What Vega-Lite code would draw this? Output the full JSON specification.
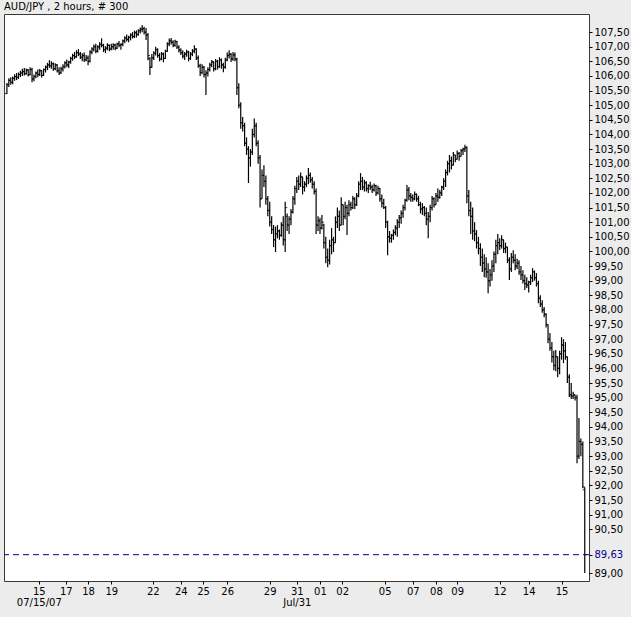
{
"$schema": "https://vega.github.io/schema/vega-lite/v6.json",
"width": 585, "height": 567,
"autosize": {"type": "none"},
"padding": {"left": 4, "top": 14, "right": 42, "bottom": 36},
"background": "#ECECEC",
"title": {"text": "AUD/JPY , 2 hours, # 300", "anchor": "start", "frame": "group", "offset": 2, "fontSize": 10, "fontWeight": "normal", "font": "DejaVu Sans", "color": "black"},
"config": {"view": {"stroke": "#3a3a30", "fill": "white"}, "font": "DejaVu Sans", "axis": {"labelOverlap": false}},
"datasets": {
"last": [{"price": 89.63}],
"bars": [
{"i":0,"o":105.40,"h":105.76,"l":105.38,"c":105.70},
{"i":1,"o":105.70,"h":105.92,"l":105.62,"c":105.85},
{"i":2,"o":105.85,"h":105.96,"l":105.70,"c":105.78},
{"i":3,"o":105.78,"h":105.98,"l":105.72,"c":105.92},
{"i":4,"o":105.92,"h":106.06,"l":105.84,"c":105.98},
{"i":5,"o":105.98,"h":106.10,"l":105.86,"c":105.95},
{"i":6,"o":105.95,"h":106.12,"l":105.90,"c":106.05},
{"i":7,"o":106.05,"h":106.18,"l":105.96,"c":106.10},
{"i":8,"o":106.10,"h":106.25,"l":106.00,"c":106.15},
{"i":9,"o":106.15,"h":106.27,"l":106.02,"c":106.08},
{"i":10,"o":106.08,"h":106.26,"l":106.04,"c":106.20},
{"i":11,"o":106.20,"h":106.24,"l":105.98,"c":106.05},
{"i":12,"o":106.05,"h":106.30,"l":106.02,"c":106.22},
{"i":13,"o":106.22,"h":106.28,"l":105.79,"c":105.90},
{"i":14,"o":105.90,"h":106.05,"l":105.82,"c":105.98},
{"i":15,"o":105.98,"h":106.15,"l":105.92,"c":106.10},
{"i":16,"o":106.10,"h":106.22,"l":105.96,"c":106.05},
{"i":17,"o":106.05,"h":106.24,"l":106.00,"c":106.18},
{"i":18,"o":106.18,"h":106.20,"l":105.95,"c":106.02},
{"i":19,"o":106.02,"h":106.26,"l":106.00,"c":106.22},
{"i":20,"o":106.22,"h":106.36,"l":106.12,"c":106.30},
{"i":21,"o":106.30,"h":106.45,"l":106.20,"c":106.38},
{"i":22,"o":106.38,"h":106.54,"l":106.28,"c":106.35},
{"i":23,"o":106.35,"h":106.50,"l":106.25,"c":106.42},
{"i":24,"o":106.42,"h":106.46,"l":106.18,"c":106.25},
{"i":25,"o":106.25,"h":106.44,"l":106.20,"c":106.38},
{"i":26,"o":106.38,"h":106.40,"l":106.12,"c":106.18},
{"i":27,"o":106.18,"h":106.30,"l":106.03,"c":106.10},
{"i":28,"o":106.10,"h":106.32,"l":106.08,"c":106.25},
{"i":29,"o":106.25,"h":106.40,"l":106.15,"c":106.32},
{"i":30,"o":106.32,"h":106.50,"l":106.26,"c":106.45},
{"i":31,"o":106.45,"h":106.56,"l":106.30,"c":106.38},
{"i":32,"o":106.38,"h":106.52,"l":106.27,"c":106.48},
{"i":33,"o":106.48,"h":106.66,"l":106.42,"c":106.60},
{"i":34,"o":106.60,"h":106.76,"l":106.52,"c":106.70},
{"i":35,"o":106.70,"h":106.82,"l":106.58,"c":106.66},
{"i":36,"o":106.66,"h":106.88,"l":106.62,"c":106.80},
{"i":37,"o":106.80,"h":106.92,"l":106.68,"c":106.75},
{"i":38,"o":106.75,"h":106.82,"l":106.58,"c":106.64},
{"i":39,"o":106.64,"h":106.78,"l":106.50,"c":106.70},
{"i":40,"o":106.70,"h":106.80,"l":106.48,"c":106.55},
{"i":41,"o":106.55,"h":106.72,"l":106.50,"c":106.62},
{"i":42,"o":106.62,"h":106.70,"l":106.37,"c":106.50},
{"i":43,"o":106.50,"h":106.88,"l":106.46,"c":106.82},
{"i":44,"o":106.82,"h":106.98,"l":106.74,"c":106.92},
{"i":45,"o":106.92,"h":107.08,"l":106.84,"c":107.00},
{"i":46,"o":107.00,"h":107.10,"l":106.78,"c":106.85},
{"i":47,"o":106.85,"h":107.05,"l":106.80,"c":107.00},
{"i":48,"o":107.00,"h":107.15,"l":106.90,"c":107.08},
{"i":49,"o":107.08,"h":107.29,"l":106.98,"c":107.05},
{"i":50,"o":107.05,"h":107.10,"l":106.82,"c":106.90},
{"i":51,"o":106.90,"h":107.02,"l":106.78,"c":106.95},
{"i":52,"o":106.95,"h":107.12,"l":106.88,"c":107.05},
{"i":53,"o":107.05,"h":107.08,"l":106.85,"c":106.92},
{"i":54,"o":106.92,"h":107.10,"l":106.88,"c":107.00},
{"i":55,"o":107.00,"h":107.12,"l":106.90,"c":107.06},
{"i":56,"o":107.06,"h":107.10,"l":106.88,"c":106.95},
{"i":57,"o":106.95,"h":107.14,"l":106.92,"c":107.10},
{"i":58,"o":107.10,"h":107.20,"l":106.98,"c":107.05},
{"i":59,"o":107.05,"h":107.12,"l":106.90,"c":107.08},
{"i":60,"o":107.08,"h":107.25,"l":107.02,"c":107.20},
{"i":61,"o":107.20,"h":107.36,"l":107.12,"c":107.30},
{"i":62,"o":107.30,"h":107.42,"l":107.18,"c":107.25},
{"i":63,"o":107.25,"h":107.38,"l":107.15,"c":107.32},
{"i":64,"o":107.32,"h":107.46,"l":107.22,"c":107.40},
{"i":65,"o":107.40,"h":107.50,"l":107.28,"c":107.35},
{"i":66,"o":107.35,"h":107.55,"l":107.30,"c":107.48},
{"i":67,"o":107.48,"h":107.56,"l":107.32,"c":107.42},
{"i":68,"o":107.42,"h":107.60,"l":107.38,"c":107.55},
{"i":69,"o":107.55,"h":107.66,"l":107.45,"c":107.60},
{"i":70,"o":107.60,"h":107.74,"l":107.50,"c":107.62},
{"i":71,"o":107.62,"h":107.68,"l":107.42,"c":107.50},
{"i":72,"o":107.50,"h":107.64,"l":107.23,"c":107.40},
{"i":73,"o":107.40,"h":107.47,"l":106.54,"c":106.70},
{"i":74,"o":106.60,"h":106.64,"l":106.03,"c":106.30},
{"i":75,"o":106.30,"h":106.75,"l":106.28,"c":106.62},
{"i":76,"o":106.62,"h":106.85,"l":106.55,"c":106.78},
{"i":77,"o":106.78,"h":107.00,"l":106.70,"c":106.90},
{"i":78,"o":106.90,"h":106.95,"l":106.62,"c":106.70},
{"i":79,"o":106.70,"h":106.78,"l":106.50,"c":106.58},
{"i":80,"o":106.58,"h":106.82,"l":106.54,"c":106.75},
{"i":81,"o":106.75,"h":106.80,"l":106.47,"c":106.60},
{"i":82,"o":106.60,"h":106.90,"l":106.58,"c":106.85},
{"i":83,"o":106.85,"h":107.15,"l":106.82,"c":107.10},
{"i":84,"o":107.10,"h":107.28,"l":107.02,"c":107.20},
{"i":85,"o":107.20,"h":107.30,"l":107.08,"c":107.15},
{"i":86,"o":107.15,"h":107.22,"l":106.98,"c":107.05},
{"i":87,"o":107.05,"h":107.24,"l":107.00,"c":107.18},
{"i":88,"o":107.18,"h":107.20,"l":106.92,"c":106.98},
{"i":89,"o":106.98,"h":107.05,"l":106.80,"c":106.88},
{"i":90,"o":106.88,"h":106.95,"l":106.72,"c":106.80},
{"i":91,"o":106.80,"h":106.88,"l":106.60,"c":106.68},
{"i":92,"o":106.68,"h":106.82,"l":106.55,"c":106.75},
{"i":93,"o":106.75,"h":106.90,"l":106.66,"c":106.82},
{"i":94,"o":106.82,"h":106.86,"l":106.50,"c":106.60},
{"i":95,"o":106.60,"h":106.82,"l":106.55,"c":106.75},
{"i":96,"o":106.75,"h":106.92,"l":106.68,"c":106.85},
{"i":97,"o":106.85,"h":107.05,"l":106.78,"c":106.92},
{"i":98,"o":106.92,"h":106.95,"l":106.55,"c":106.62},
{"i":99,"o":106.62,"h":106.70,"l":106.28,"c":106.35},
{"i":100,"o":106.35,"h":106.42,"l":106.00,"c":106.12},
{"i":101,"o":106.12,"h":106.40,"l":106.06,"c":106.30},
{"i":102,"o":106.30,"h":106.34,"l":105.95,"c":106.05},
{"i":103,"o":106.05,"h":106.20,"l":105.35,"c":106.10},
{"i":104,"o":106.10,"h":106.30,"l":105.98,"c":106.22},
{"i":105,"o":106.22,"h":106.45,"l":106.15,"c":106.38},
{"i":106,"o":106.38,"h":106.55,"l":106.30,"c":106.48},
{"i":107,"o":106.48,"h":106.50,"l":106.15,"c":106.25},
{"i":108,"o":106.25,"h":106.58,"l":106.20,"c":106.50},
{"i":109,"o":106.50,"h":106.55,"l":106.22,"c":106.32},
{"i":110,"o":106.32,"h":106.64,"l":106.28,"c":106.55},
{"i":111,"o":106.55,"h":106.60,"l":106.25,"c":106.38},
{"i":112,"o":106.38,"h":106.45,"l":106.13,"c":106.30},
{"i":113,"o":106.30,"h":106.62,"l":106.25,"c":106.55},
{"i":114,"o":106.55,"h":106.80,"l":106.50,"c":106.70},
{"i":115,"o":106.70,"h":106.88,"l":106.60,"c":106.75},
{"i":116,"o":106.75,"h":106.78,"l":106.48,"c":106.58},
{"i":117,"o":106.58,"h":106.82,"l":106.52,"c":106.72},
{"i":118,"o":106.72,"h":106.80,"l":106.50,"c":106.58},
{"i":119,"o":106.58,"h":106.62,"l":105.35,"c":105.60},
{"i":120,"o":105.60,"h":105.75,"l":104.90,"c":105.00},
{"i":121,"o":105.00,"h":105.10,"l":104.20,"c":104.40},
{"i":122,"o":104.40,"h":104.60,"l":104.10,"c":104.30},
{"i":123,"o":104.30,"h":104.40,"l":103.60,"c":103.70},
{"i":124,"o":103.70,"h":103.90,"l":103.30,"c":103.50},
{"i":125,"o":103.50,"h":103.60,"l":102.34,"c":103.20},
{"i":126,"o":103.20,"h":103.50,"l":102.90,"c":103.40},
{"i":127,"o":103.40,"h":104.20,"l":103.30,"c":104.00},
{"i":128,"o":104.00,"h":104.55,"l":103.90,"c":104.30},
{"i":129,"o":104.30,"h":104.40,"l":103.60,"c":103.70},
{"i":130,"o":103.70,"h":103.80,"l":103.00,"c":103.20},
{"i":131,"o":103.20,"h":103.30,"l":101.50,"c":101.80},
{"i":132,"o":101.80,"h":102.80,"l":101.80,"c":102.60},
{"i":133,"o":102.60,"h":102.95,"l":102.20,"c":102.40},
{"i":134,"o":102.40,"h":102.60,"l":101.60,"c":101.80},
{"i":135,"o":101.80,"h":101.90,"l":101.20,"c":101.40},
{"i":136,"o":101.40,"h":101.70,"l":100.85,"c":101.00},
{"i":137,"o":101.00,"h":101.20,"l":100.60,"c":100.75},
{"i":138,"o":100.75,"h":100.90,"l":100.15,"c":100.40},
{"i":139,"o":100.40,"h":100.85,"l":99.98,"c":100.60},
{"i":140,"o":100.60,"h":100.90,"l":100.45,"c":100.70},
{"i":141,"o":100.70,"h":100.75,"l":100.40,"c":100.55},
{"i":142,"o":100.55,"h":101.00,"l":100.50,"c":100.90},
{"i":143,"o":100.90,"h":101.20,"l":100.20,"c":100.40},
{"i":144,"o":100.40,"h":101.70,"l":99.98,"c":101.50},
{"i":145,"o":101.20,"h":101.30,"l":100.70,"c":100.90},
{"i":146,"o":100.90,"h":101.20,"l":100.60,"c":101.10},
{"i":147,"o":101.10,"h":101.45,"l":100.90,"c":101.35},
{"i":148,"o":101.35,"h":101.90,"l":101.30,"c":101.80},
{"i":149,"o":101.80,"h":102.25,"l":101.60,"c":102.15},
{"i":150,"o":102.15,"h":102.55,"l":102.00,"c":102.40},
{"i":151,"o":102.40,"h":102.60,"l":102.10,"c":102.30},
{"i":152,"o":102.30,"h":102.70,"l":102.20,"c":102.55},
{"i":153,"o":102.55,"h":102.55,"l":101.95,"c":102.20},
{"i":154,"o":102.20,"h":102.40,"l":102.05,"c":102.30},
{"i":155,"o":102.30,"h":102.60,"l":102.20,"c":102.50},
{"i":156,"o":102.50,"h":102.85,"l":102.30,"c":102.60},
{"i":157,"o":102.60,"h":102.70,"l":102.35,"c":102.45},
{"i":158,"o":102.45,"h":102.55,"l":102.15,"c":102.30},
{"i":159,"o":102.30,"h":102.40,"l":101.95,"c":102.05},
{"i":160,"o":102.05,"h":102.15,"l":100.60,"c":100.90},
{"i":161,"o":100.90,"h":101.20,"l":100.70,"c":101.05},
{"i":162,"o":101.05,"h":101.15,"l":100.60,"c":100.80},
{"i":163,"o":100.80,"h":101.25,"l":100.75,"c":101.00},
{"i":164,"o":100.90,"h":100.95,"l":100.10,"c":100.30},
{"i":165,"o":100.30,"h":100.50,"l":99.60,"c":99.80},
{"i":166,"o":99.80,"h":100.10,"l":99.46,"c":99.70},
{"i":167,"o":99.70,"h":100.40,"l":99.55,"c":100.20},
{"i":168,"o":100.20,"h":100.80,"l":99.90,"c":100.40},
{"i":169,"o":100.40,"h":100.50,"l":99.98,"c":100.30},
{"i":170,"o":100.30,"h":101.20,"l":100.30,"c":101.00},
{"i":171,"o":101.00,"h":101.50,"l":100.80,"c":101.20},
{"i":172,"o":101.20,"h":101.40,"l":100.70,"c":100.90},
{"i":173,"o":100.90,"h":101.85,"l":100.90,"c":101.60},
{"i":174,"o":101.60,"h":101.60,"l":100.90,"c":101.20},
{"i":175,"o":101.20,"h":101.70,"l":101.10,"c":101.50},
{"i":176,"o":101.50,"h":101.60,"l":100.56,"c":101.30},
{"i":177,"o":101.30,"h":101.75,"l":101.20,"c":101.60},
{"i":178,"o":101.60,"h":101.70,"l":101.40,"c":101.50},
{"i":179,"o":101.50,"h":101.90,"l":101.45,"c":101.80},
{"i":180,"o":101.80,"h":101.85,"l":101.45,"c":101.60},
{"i":181,"o":101.60,"h":102.00,"l":101.55,"c":101.90},
{"i":182,"o":101.90,"h":102.40,"l":101.85,"c":102.30},
{"i":183,"o":102.30,"h":102.68,"l":102.10,"c":102.40},
{"i":184,"o":102.40,"h":102.55,"l":102.10,"c":102.20},
{"i":185,"o":102.20,"h":102.45,"l":102.05,"c":102.35},
{"i":186,"o":102.35,"h":102.40,"l":102.05,"c":102.15},
{"i":187,"o":102.15,"h":102.30,"l":102.00,"c":102.25},
{"i":188,"o":102.25,"h":102.38,"l":102.10,"c":102.20},
{"i":189,"o":102.20,"h":102.28,"l":102.00,"c":102.10},
{"i":190,"o":102.10,"h":102.32,"l":102.05,"c":102.25},
{"i":191,"o":102.25,"h":102.28,"l":101.90,"c":102.00},
{"i":192,"o":102.00,"h":102.25,"l":101.95,"c":102.15},
{"i":193,"o":102.15,"h":102.18,"l":101.70,"c":101.80},
{"i":194,"o":101.80,"h":101.95,"l":101.50,"c":101.65},
{"i":195,"o":101.65,"h":101.80,"l":101.45,"c":101.50},
{"i":196,"o":101.50,"h":101.55,"l":100.80,"c":101.00},
{"i":197,"o":101.00,"h":101.05,"l":99.87,"c":100.50},
{"i":198,"o":100.50,"h":100.70,"l":100.30,"c":100.45},
{"i":199,"o":100.45,"h":100.60,"l":100.30,"c":100.55},
{"i":200,"o":100.55,"h":100.75,"l":100.40,"c":100.65},
{"i":201,"o":100.65,"h":100.90,"l":100.55,"c":100.80},
{"i":202,"o":100.80,"h":101.10,"l":100.50,"c":101.00},
{"i":203,"o":101.00,"h":101.25,"l":100.80,"c":101.15},
{"i":204,"o":101.15,"h":101.40,"l":100.95,"c":101.30},
{"i":205,"o":101.30,"h":101.60,"l":101.15,"c":101.50},
{"i":206,"o":101.50,"h":101.80,"l":101.40,"c":101.75},
{"i":207,"o":101.75,"h":102.27,"l":101.70,"c":102.10},
{"i":208,"o":102.10,"h":102.20,"l":101.75,"c":101.90},
{"i":209,"o":101.90,"h":102.00,"l":101.70,"c":101.85},
{"i":210,"o":101.85,"h":101.95,"l":101.70,"c":101.80},
{"i":211,"o":101.80,"h":102.05,"l":101.75,"c":101.95},
{"i":212,"o":101.95,"h":101.98,"l":101.70,"c":101.80},
{"i":213,"o":101.80,"h":101.90,"l":101.55,"c":101.60},
{"i":214,"o":101.60,"h":101.70,"l":101.30,"c":101.45},
{"i":215,"o":101.45,"h":101.65,"l":101.25,"c":101.50},
{"i":216,"o":101.50,"h":101.55,"l":101.20,"c":101.30},
{"i":217,"o":101.30,"h":101.50,"l":100.90,"c":101.10},
{"i":218,"o":101.10,"h":101.35,"l":100.45,"c":101.20},
{"i":219,"o":101.20,"h":101.60,"l":101.00,"c":101.50},
{"i":220,"o":101.50,"h":101.90,"l":101.40,"c":101.80},
{"i":221,"o":101.80,"h":101.85,"l":101.50,"c":101.60},
{"i":222,"o":101.60,"h":102.00,"l":101.60,"c":101.90},
{"i":223,"o":101.90,"h":102.15,"l":101.70,"c":101.85},
{"i":224,"o":101.85,"h":102.10,"l":101.80,"c":102.00},
{"i":225,"o":102.00,"h":102.25,"l":101.90,"c":102.20},
{"i":226,"o":102.20,"h":102.50,"l":102.10,"c":102.40},
{"i":227,"o":102.40,"h":102.80,"l":102.20,"c":102.70},
{"i":228,"o":102.70,"h":103.10,"l":102.60,"c":103.00},
{"i":229,"o":103.00,"h":103.30,"l":102.70,"c":103.10},
{"i":230,"o":103.10,"h":103.25,"l":102.80,"c":102.95},
{"i":231,"o":102.95,"h":103.40,"l":102.95,"c":103.30},
{"i":232,"o":103.30,"h":103.30,"l":103.05,"c":103.15},
{"i":233,"o":103.15,"h":103.45,"l":103.15,"c":103.35},
{"i":234,"o":103.35,"h":103.40,"l":103.10,"c":103.25},
{"i":235,"o":103.25,"h":103.50,"l":103.25,"c":103.45},
{"i":236,"o":103.45,"h":103.55,"l":103.30,"c":103.50},
{"i":237,"o":103.50,"h":103.65,"l":103.40,"c":103.55},
{"i":238,"o":103.55,"h":103.60,"l":101.65,"c":101.90},
{"i":239,"o":101.90,"h":102.10,"l":101.20,"c":101.40},
{"i":240,"o":101.40,"h":101.70,"l":100.60,"c":101.20},
{"i":241,"o":101.20,"h":101.50,"l":100.40,"c":100.70},
{"i":242,"o":100.70,"h":101.00,"l":100.35,"c":100.60},
{"i":243,"o":100.60,"h":100.73,"l":100.10,"c":100.30},
{"i":244,"o":100.30,"h":100.50,"l":99.90,"c":100.10},
{"i":245,"o":100.10,"h":100.28,"l":99.50,"c":99.80},
{"i":246,"o":99.80,"h":100.10,"l":99.30,"c":99.60},
{"i":247,"o":99.60,"h":99.90,"l":99.12,"c":99.40},
{"i":248,"o":99.40,"h":99.80,"l":99.10,"c":99.30},
{"i":249,"o":99.30,"h":99.60,"l":98.57,"c":99.00},
{"i":250,"o":99.00,"h":99.40,"l":98.80,"c":99.20},
{"i":251,"o":99.20,"h":99.70,"l":99.00,"c":99.50},
{"i":252,"o":99.50,"h":100.00,"l":99.30,"c":99.90},
{"i":253,"o":99.90,"h":100.40,"l":99.60,"c":100.20},
{"i":254,"o":100.20,"h":100.60,"l":99.90,"c":100.30},
{"i":255,"o":100.30,"h":100.45,"l":100.05,"c":100.20},
{"i":256,"o":100.20,"h":100.55,"l":100.10,"c":100.40},
{"i":257,"o":100.40,"h":100.40,"l":99.95,"c":100.10},
{"i":258,"o":100.10,"h":100.30,"l":99.94,"c":100.15},
{"i":259,"o":100.15,"h":100.15,"l":99.60,"c":99.70},
{"i":260,"o":99.70,"h":99.80,"l":99.02,"c":99.40},
{"i":261,"o":99.40,"h":99.95,"l":99.30,"c":99.80},
{"i":262,"o":99.80,"h":100.04,"l":99.60,"c":99.70},
{"i":263,"o":99.70,"h":99.90,"l":99.36,"c":99.50},
{"i":264,"o":99.50,"h":99.75,"l":99.40,"c":99.60},
{"i":265,"o":99.60,"h":99.70,"l":99.20,"c":99.30},
{"i":266,"o":99.30,"h":99.50,"l":99.02,"c":99.20},
{"i":267,"o":99.20,"h":99.36,"l":98.90,"c":99.00},
{"i":268,"o":99.00,"h":99.20,"l":98.68,"c":98.90},
{"i":269,"o":98.90,"h":99.12,"l":98.75,"c":98.85},
{"i":270,"o":98.85,"h":99.00,"l":98.60,"c":98.95},
{"i":271,"o":98.95,"h":99.20,"l":98.85,"c":99.10},
{"i":272,"o":99.10,"h":99.43,"l":98.95,"c":99.30},
{"i":273,"o":99.30,"h":99.35,"l":99.00,"c":99.10},
{"i":274,"o":99.10,"h":99.26,"l":98.80,"c":98.90},
{"i":275,"o":98.90,"h":99.00,"l":98.23,"c":98.40},
{"i":276,"o":98.40,"h":98.50,"l":98.10,"c":98.20},
{"i":277,"o":98.20,"h":98.33,"l":97.90,"c":98.00},
{"i":278,"o":98.00,"h":98.10,"l":97.75,"c":97.85},
{"i":279,"o":97.85,"h":97.89,"l":97.40,"c":97.50},
{"i":280,"o":97.50,"h":97.50,"l":96.86,"c":97.00},
{"i":281,"o":97.00,"h":97.21,"l":96.60,"c":96.70},
{"i":282,"o":96.70,"h":96.90,"l":96.20,"c":96.40},
{"i":283,"o":96.40,"h":96.60,"l":95.94,"c":96.10},
{"i":284,"o":96.10,"h":96.63,"l":95.90,"c":96.40},
{"i":285,"o":96.40,"h":96.40,"l":95.70,"c":96.00},
{"i":286,"o":96.00,"h":96.60,"l":95.80,"c":96.50},
{"i":287,"o":96.50,"h":97.07,"l":96.30,"c":96.80},
{"i":288,"o":96.80,"h":97.00,"l":96.18,"c":96.60},
{"i":289,"o":96.60,"h":96.90,"l":96.30,"c":96.40},
{"i":290,"o":96.40,"h":96.40,"l":95.50,"c":95.70},
{"i":291,"o":95.70,"h":95.80,"l":95.02,"c":95.10},
{"i":292,"o":95.10,"h":95.50,"l":94.95,"c":95.05},
{"i":293,"o":95.05,"h":95.20,"l":94.95,"c":95.10},
{"i":294,"o":95.10,"h":95.10,"l":94.90,"c":95.00},
{"i":295,"o":95.00,"h":95.10,"l":92.76,"c":93.00},
{"i":296,"o":93.00,"h":94.30,"l":92.90,"c":93.50},
{"i":297,"o":93.50,"h":93.60,"l":93.00,"c":93.40},
{"i":298,"o":93.40,"h":93.50,"l":91.90,"c":91.95},
{"i":299,"o":91.85,"h":91.94,"l":89.00,"c":89.63}
]},
"layer": [
{"data": {"name": "bars"},
 "mark": {"type": "rule", "color": "black", "strokeWidth": 1.2},
 "encoding": {
  "x": {"field": "i", "type": "quantitative", "title": null,
        "scale": {"domain": [-1.5, 301.2], "nice": false, "zero": false},
        "axis": {"orient": "bottom", "values": [16.5, 30.5, 42, 54, 75.5, 90, 101.5, 114, 136, 150, 162, 173.5, 195.5, 210, 222, 233, 255, 270, 287],
                 "labelExpr": "['15','17','18','19','22','24','25','26','29','31','01','02','05','07','08','09','12','14','15'][indexof([16.5, 30.5, 42, 54, 75.5, 90, 101.5, 114, 136, 150, 162, 173.5, 195.5, 210, 222, 233, 255, 270, 287], datum.value)]",
                 "tickSize": 3, "tickColor": "black", "labelPadding": 2, "domain": false, "grid": false, "title": null,
                 "labelFont": "DejaVu Sans", "labelFontSize": 10, "labelColor": "black", "labelFlush": false, "labelOverlap": false}},
  "y": {"field": "l", "type": "quantitative", "title": null,
        "scale": {"domain": [88.73, 108.12], "nice": false, "zero": false},
        "axis": {"orient": "right", "values": [89, 89.63, 90.5, 91, 91.5, 92, 92.5, 93, 93.5, 94, 94.5, 95, 95.5, 96, 96.5, 97, 97.5, 98, 98.5, 99, 99.5, 100, 100.5, 101, 101.5, 102, 102.5, 103, 103.5, 104, 104.5, 105, 105.5, 106, 106.5, 107, 107.5],
                 "labelExpr": "replace(format(datum.value, '.2f'), '.', ',')",
                 "tickSize": 3, "tickColor": "black", "labelPadding": 2, "domain": false, "grid": false, "title": null,
                 "labelFont": "DejaVu Sans", "labelFontSize": 10,
                 "labelColor": {"condition": {"test": "datum.value == 89.63", "value": "#00008B"}, "value": "black"},
                 "labelFlush": false, "labelOverlap": false, "labelBound": false}},
  "y2": {"field": "h"}
 }},
{"data": {"name": "bars"},
 "mark": {"type": "tick", "orient": "horizontal", "size": 2, "thickness": 1.2, "xOffset": -1, "color": "black"},
 "encoding": {
  "x": {"field": "i", "type": "quantitative", "title": null,
        "axis": {"orient": "bottom", "values": [16.5, 150], "labelExpr": "datum.value == 16.5 ? '07/15/07' : 'Jul/31'",
                 "ticks": false, "tickSize": 0, "domain": false, "grid": false, "labelPadding": 16, "title": null,
                 "labelFont": "DejaVu Sans", "labelFontSize": 10, "labelColor": "black", "labelFlush": false, "labelOverlap": false}},
  "y": {"field": "o", "type": "quantitative", "title": null, "axis": null}
 }},
{"data": {"name": "bars"},
 "mark": {"type": "tick", "orient": "horizontal", "size": 2, "thickness": 1.2, "xOffset": 1, "color": "black"},
 "encoding": {
  "x": {"field": "i", "type": "quantitative", "title": null, "axis": null},
  "y": {"field": "c", "type": "quantitative", "title": null, "axis": null}
 }},
{"data": {"name": "last"},
 "mark": {"type": "rule", "color": "#00008B", "strokeWidth": 1, "strokeDash": [6, 4]},
 "encoding": {"y": {"field": "price", "type": "quantitative", "title": null, "axis": null}}}
],
"resolve": {"axis": {"x": "independent", "y": "independent"}}
}
